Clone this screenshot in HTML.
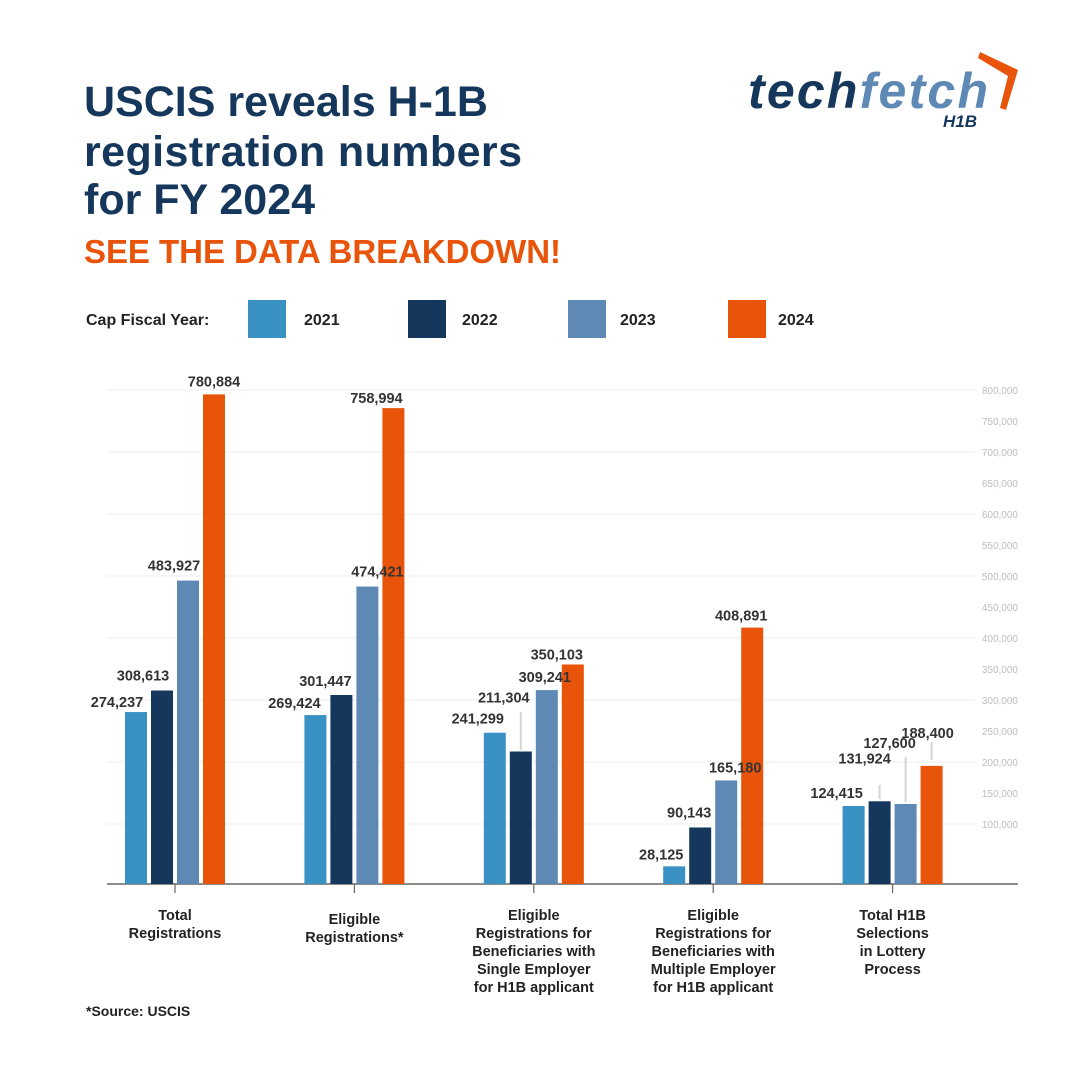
<!DOCTYPE html>
<html><head><meta charset="utf-8">
<style>
body{margin:0;background:#fff;}
svg text{font-family:"Liberation Sans",sans-serif;}
</style></head>
<body>
<svg id="chart" width="1080" height="1080" viewBox="0 0 1080 1080" xmlns="http://www.w3.org/2000/svg">
<rect width="1080" height="1080" fill="#fff"/>
<g fill="#15375c" font-weight="bold" font-size="43">
<text x="84" y="116">USCIS reveals H-1B</text>
<text x="84" y="166" textLength="438">registration numbers</text>
<text x="84" y="214">for FY 2024</text>
</g>
<text x="84" y="263" fill="#e8540a" font-weight="bold" font-size="33" textLength="477">SEE THE DATA BREAKDOWN!</text>
<g>
<text x="748" y="108" font-size="50" font-weight="bold" font-style="italic" fill="#15375c" textLength="240">tech<tspan fill="#5e89b5">fetch</tspan></text>
<text x="943" y="127" font-size="17" font-weight="bold" font-style="italic" fill="#15375c">H1B</text>
<path d="M980 52 L1018 70 L1006 110 L1000 108 L1008 76 L978 58 Z" fill="#e8540a"/>
</g>
<g id="legend" font-size="16" font-weight="bold" fill="#222">
<text x="86" y="325">Cap Fiscal Year:</text>
</g>
<g id="grid"></g>
<g id="bars"></g>
<g id="labels"></g>
<g id="cats"></g>
<text x="86" y="1016" font-size="14" font-weight="bold" fill="#222">*Source: USCIS</text>
</svg>
<script>
const years = ["2021","2022","2023","2024"];
const colors = ["#3a91c3","#15375c","#5e89b5","#e8540a"];
const categories = [
 ["Total","Registrations"],
 ["Eligible","Registrations*"],
 ["Eligible","Registrations for","Beneficiaries with","Single Employer","for H1B applicant"],
 ["Eligible","Registrations for","Beneficiaries with","Multiple Employer","for H1B applicant"],
 ["Total H1B","Selections","in Lottery","Process"]
];
const s2021 = [274237,269424,241299,28125,124415];
const s2022 = [308613,301447,211304,90143,131924];
const s2023 = [483927,474421,309241,165180,127600];
const s2024 = [780884,758994,350103,408891,188400];
const series = [s2021,s2022,s2023,s2024];
const ticks = [100000,150000,200000,250000,300000,350000,400000,450000,500000,550000,600000,650000,700000,750000,800000];
const gridTicks = [100000,200000,300000,400000,500000,600000,700000,800000];

const NS="http://www.w3.org/2000/svg";
function mk(tag,attrs,parent,text){const e=document.createElementNS(NS,tag);for(const k in attrs)e.setAttribute(k,attrs[k]);if(text!==undefined)e.textContent=text;parent.appendChild(e);return e;}
const base=884;
function yBar(v){return base - v*0.000627;}
function yTick(v){return 886 - v*0.00062;}
function xBar(g,s){return 125 + g*179.4 + s*26;}
const bw=22;
const lab=[
 [[-19,10],[-19,15],[-14,15],[0,13]],
 [[-21,12],[-16,14],[10,15],[-17,10]],
 [[-17,14],[-17,54],[-2,13],[-16,10]],
 [[-13,12],[-11,15],[9,13],[-11,12]],
 [[-17,13],[-15,43],[-16,61],[-4,33]]
];
const leaders={ "2,1":[712,750], "4,1":[785,799], "4,2":[757,802], "4,3":[742,760] };

const lg=document.getElementById('legend');
years.forEach((y,i)=>{
 const r=mk('rect',{x:248+i*160,y:300,width:38,height:38,fill:colors[i]},lg);
 
 
 const t=mk('text',{x:304+i*158,y:325},lg,y);
 
 
});
const gr=document.getElementById('grid');
gridTicks.forEach(v=>{
 const l=mk('line',{x1:107,x2:975,y1:yTick(v),y2:yTick(v),stroke:"#ececec","stroke-width":1},gr);
 
 
});
ticks.forEach(v=>{
 const t=mk('text',{x:1018,y:yTick(v)+4,"text-anchor":"end","font-size":10,fill:"#bdbdbd"},gr,v.toLocaleString('en-US'));
 
 
});
const ax=mk('line',{x1:107,x2:1018,y1:base,y2:base,stroke:"#666","stroke-width":1.5},gr);


const bg=document.getElementById('bars'), lb=document.getElementById('labels'), cg=document.getElementById('cats');
categories.forEach((c,g)=>{
 series.forEach((s,i)=>{
  const x=xBar(g,i), top=yBar(s[g]);
  const r=mk('rect',{x:x,y:top,width:bw,height:base-top,fill:colors[i]},bg);
  
  
  const cx=x+bw/2, o=lab[g][i];
  const t=mk('text',{x:cx+o[0],y:top-o[1]+5,"text-anchor":"middle","font-size":14.5,"font-weight":"bold",fill:"#333"},lb,s[g].toLocaleString('en-US'));
  
  
  const L=leaders[g+","+i];
  if(L){const l=mk('line',{x1:cx,x2:cx,y1:L[0],y2:L[1],stroke:"#d5d5d5","stroke-width":2},lb);
   
   }
 });
 const gc=xBar(g,0)+ (3*26+bw)/2;
 const tk=mk('line',{x1:gc,x2:gc,y1:base,y2:base+9,stroke:"#666","stroke-width":1.2},cg);
 
 
 const y0 = c.length===2 && g===1 ? 924 : 920;
 c.forEach((line,k)=>{
  const t=mk('text',{x:gc,y:y0+k*18,"text-anchor":"middle","font-size":14.5,"font-weight":"bold",fill:"#222"},cg,line);
  
  
 });
});
</script>
</body></html>
